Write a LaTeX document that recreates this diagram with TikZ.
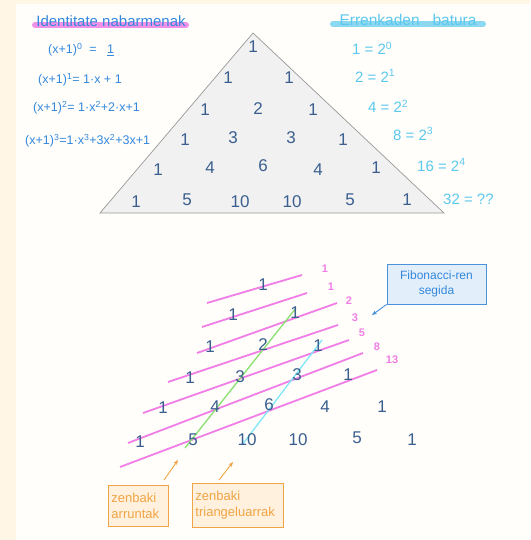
\documentclass[tikz,border=0pt]{standalone}
\usepackage{fontspec}
\setmainfont{Liberation Sans}
\usetikzlibrary{arrows.meta}
\definecolor{cream}{HTML}{FFF6E5}
\definecolor{panel}{HTML}{FFFEFA}
\definecolor{formblue}{HTML}{3388DD}
\definecolor{numblue}{HTML}{3A5F8F}
\definecolor{sumblue}{HTML}{5CC8EE}
\definecolor{pinkc}{HTML}{F07EE6}
\definecolor{greenc}{HTML}{88E070}
\definecolor{cyanc}{HTML}{7EE8F8}
\definecolor{orangec}{HTML}{F0A445}
\definecolor{orangefill}{HTML}{FFF1DD}
\definecolor{bluefill}{HTML}{E2EEF9}
\definecolor{blueline}{HTML}{4A92DA}
\definecolor{trifill}{HTML}{F1F1F1}
\tikzset{
  num/.style={text=numblue, font=\fontsize{17}{19}\selectfont, inner sep=0pt},
  formula/.style={text=formblue, font=\fontsize{12.5}{14}\selectfont, anchor=west, inner sep=0pt},
  sumtxt/.style={text=sumblue, font=\fontsize{15}{17}\selectfont, anchor=west, inner sep=0pt},
  fiblab/.style={text=pinkc, font=\bfseries\fontsize{11}{13}\selectfont, inner sep=0pt},
  pinkline/.style={draw=pinkc, line width=1.8pt},
  orangebox/.style={draw=orangec, fill=orangefill, line width=0.9pt, text=orangec, align=left, font=\fontsize{13}{16}\selectfont, inner sep=3pt, anchor=north west},
  orangearrow/.style={draw=orangec, line width=0.9pt, -{Stealth[length=5pt,width=4pt]}},
}
\begin{document}
\begin{tikzpicture}[x=1pt,y=-1pt]
\useasboundingbox (0,0) rectangle (530,540);
\fill[cream] (0,0) rectangle (530,540);
\fill[panel] (16,4) rectangle (530,540);

% titles with highlighter
\draw[pinkc, opacity=0.85, line width=6pt, line cap=round] (35,25) -- (186,25);
\node[text=formblue, font=\fontsize{15}{17}\selectfont, inner sep=0pt] (title1) at (111,21) {Identitate nabarmenak};
\draw[sumblue, opacity=0.7, line width=6pt, line cap=round] (333,24) -- (483,24);
\node[text=sumblue, font=\fontsize{15.5}{17}\selectfont, inner sep=0pt] (title2) at (408,20) {Errenkaden\ \ \ batura};

% formulas
\node[formula] (f0) at (48,50) {(x+1)\textsuperscript{0}\ \ =\ \ \ \underline{1}};
\node[formula] (f1) at (38,80) {(x+1)\textsuperscript{1}= 1·x + 1};
\node[formula] (f2) at (33,108) {(x+1)\textsuperscript{2}= 1·x\textsuperscript{2}+2·x+1};
\node[formula] (f3) at (25,141) {(x+1)\textsuperscript{3}=1·x\textsuperscript{3}+3x\textsuperscript{2}+3x+1};

% sums
\node[sumtxt] (s0) at (352,48) {1 = 2\textsuperscript{0}};
\node[sumtxt] (s1) at (355,76) {2 = 2\textsuperscript{1}};
\node[sumtxt] (s2) at (368,106) {4 = 2\textsuperscript{2}};
\node[sumtxt] (s3) at (393,134) {8 = 2\textsuperscript{3}};
\node[sumtxt] (s4) at (417,165) {16 = 2\textsuperscript{4}};
\node[sumtxt] (s5) at (443,199) {32 = ??};

% Pascal triangle
\draw[draw=black!40, fill=trifill, line width=0.7pt] (253,33) -- (444,213) -- (100,213) -- cycle;
\node[num] (a00) at (253,47) {1};
\node[num] (a10) at (228,78) {1};
\node[num] (a11) at (289,78) {1};
\node[num] (a20) at (205,110) {1};
\node[num] (a21) at (258,109) {2};
\node[num] (a22) at (313,110) {1};
\node[num] (a30) at (185,140) {1};
\node[num] (a31) at (233,138) {3};
\node[num] (a32) at (291,138) {3};
\node[num] (a33) at (343,140) {1};
\node[num] (a40) at (158,170) {1};
\node[num] (a41) at (210,168) {4};
\node[num] (a42) at (263,166) {6};
\node[num] (a43) at (318,170) {4};
\node[num] (a44) at (376,168) {1};
\node[num] (a50) at (136,202) {1};
\node[num] (a51) at (187,200) {5};
\node[num] (a52) at (240,202) {10};
\node[num] (a53) at (292,202) {10};
\node[num] (a54) at (350,200) {5};
\node[num] (a55) at (407,200) {1};

% Fibonacci diagonals
\coordinate (p1a) at (207,303); \coordinate (p1b) at (302,275);
\coordinate (p2a) at (202,327); \coordinate (p2b) at (307,293);
\coordinate (p3a) at (197,353); \coordinate (p3b) at (337,303);
\coordinate (p4a) at (168,382); \coordinate (p4b) at (338,325);
\coordinate (p5a) at (143,413); \coordinate (p5b) at (349,340);
\coordinate (p6a) at (128,443); \coordinate (p6b) at (363,353);
\coordinate (p7a) at (120,467); \coordinate (p7b) at (377,370);
\foreach \i in {1,...,7} { \draw[pinkline] (p\i a) -- (p\i b); }

% green & cyan diagonals
\coordinate (g1) at (296,308); \coordinate (g2) at (185,448);
\draw[greenc, line width=1.3pt] (g1) -- (g2);
\coordinate (c1) at (322,340); \coordinate (c2) at (242,445);
\draw[cyanc, line width=1.3pt] (c1) -- (c2);

% lower triangle numbers
\node[num] (b00) at (263,285) {1};
\node[num] (b10) at (233,315) {1};
\node[num] (b11) at (295,313) {1};
\node[num] (b20) at (210,347) {1};
\node[num] (b21) at (263,345) {2};
\node[num] (b22) at (318,346) {1};
\node[num] (b30) at (190,378) {1};
\node[num] (b31) at (240,377) {3};
\node[num] (b32) at (297,375) {3};
\node[num] (b33) at (348,375) {1};
\node[num] (b40) at (163,408) {1};
\node[num] (b41) at (215,407) {4};
\node[num] (b42) at (269,405) {6};
\node[num] (b43) at (325,407) {4};
\node[num] (b44) at (382,407) {1};
\node[num] (b50) at (140,442) {1};
\node[num] (b51) at (193,440) {5};
\node[num] (b52) at (247,440) {10};
\node[num] (b53) at (298,440) {10};
\node[num] (b54) at (357,438) {5};
\node[num] (b55) at (412,440) {1};

% Fibonacci labels
\node[fiblab] (l1) at (325,269) {1};
\node[fiblab] (l2) at (331,287) {1};
\node[fiblab] (l3) at (349,301) {2};
\node[fiblab] (l4) at (355,318) {3};
\node[fiblab] (l5) at (362,333) {5};
\node[fiblab] (l6) at (377,347) {8};
\node[fiblab] (l7) at (392,360) {13};

% Fibonacci box
\node[draw=blueline, fill=bluefill, line width=0.9pt, text=formblue, align=center,
      font=\fontsize{12}{15}\selectfont, minimum width=99pt, minimum height=40pt, inner sep=2pt]
      (fib) at (436.5,284) {Fibonacci-ren\\segida};
\coordinate (fibtip) at (372,315);
\draw[draw=blueline, line width=0.9pt, -{Stealth[length=5pt,width=4pt]}] (fib.south west) -- (fibtip);

% orange boxes
\node[orangebox, minimum width=60pt, minimum height=41pt, text width=54pt] (nat) at (108,485) {zenbaki\\arruntak};
\node[orangebox, minimum width=91pt, minimum height=44pt, text width=85pt] (trian) at (192,483) {zenbaki\\triangeluarrak};
\coordinate (natt) at (178,460);
\coordinate (triant) at (233,462);
\draw[orangearrow] (164,480) -- (natt);
\draw[orangearrow] (219,480) -- (triant);
\end{tikzpicture}
\end{document}
